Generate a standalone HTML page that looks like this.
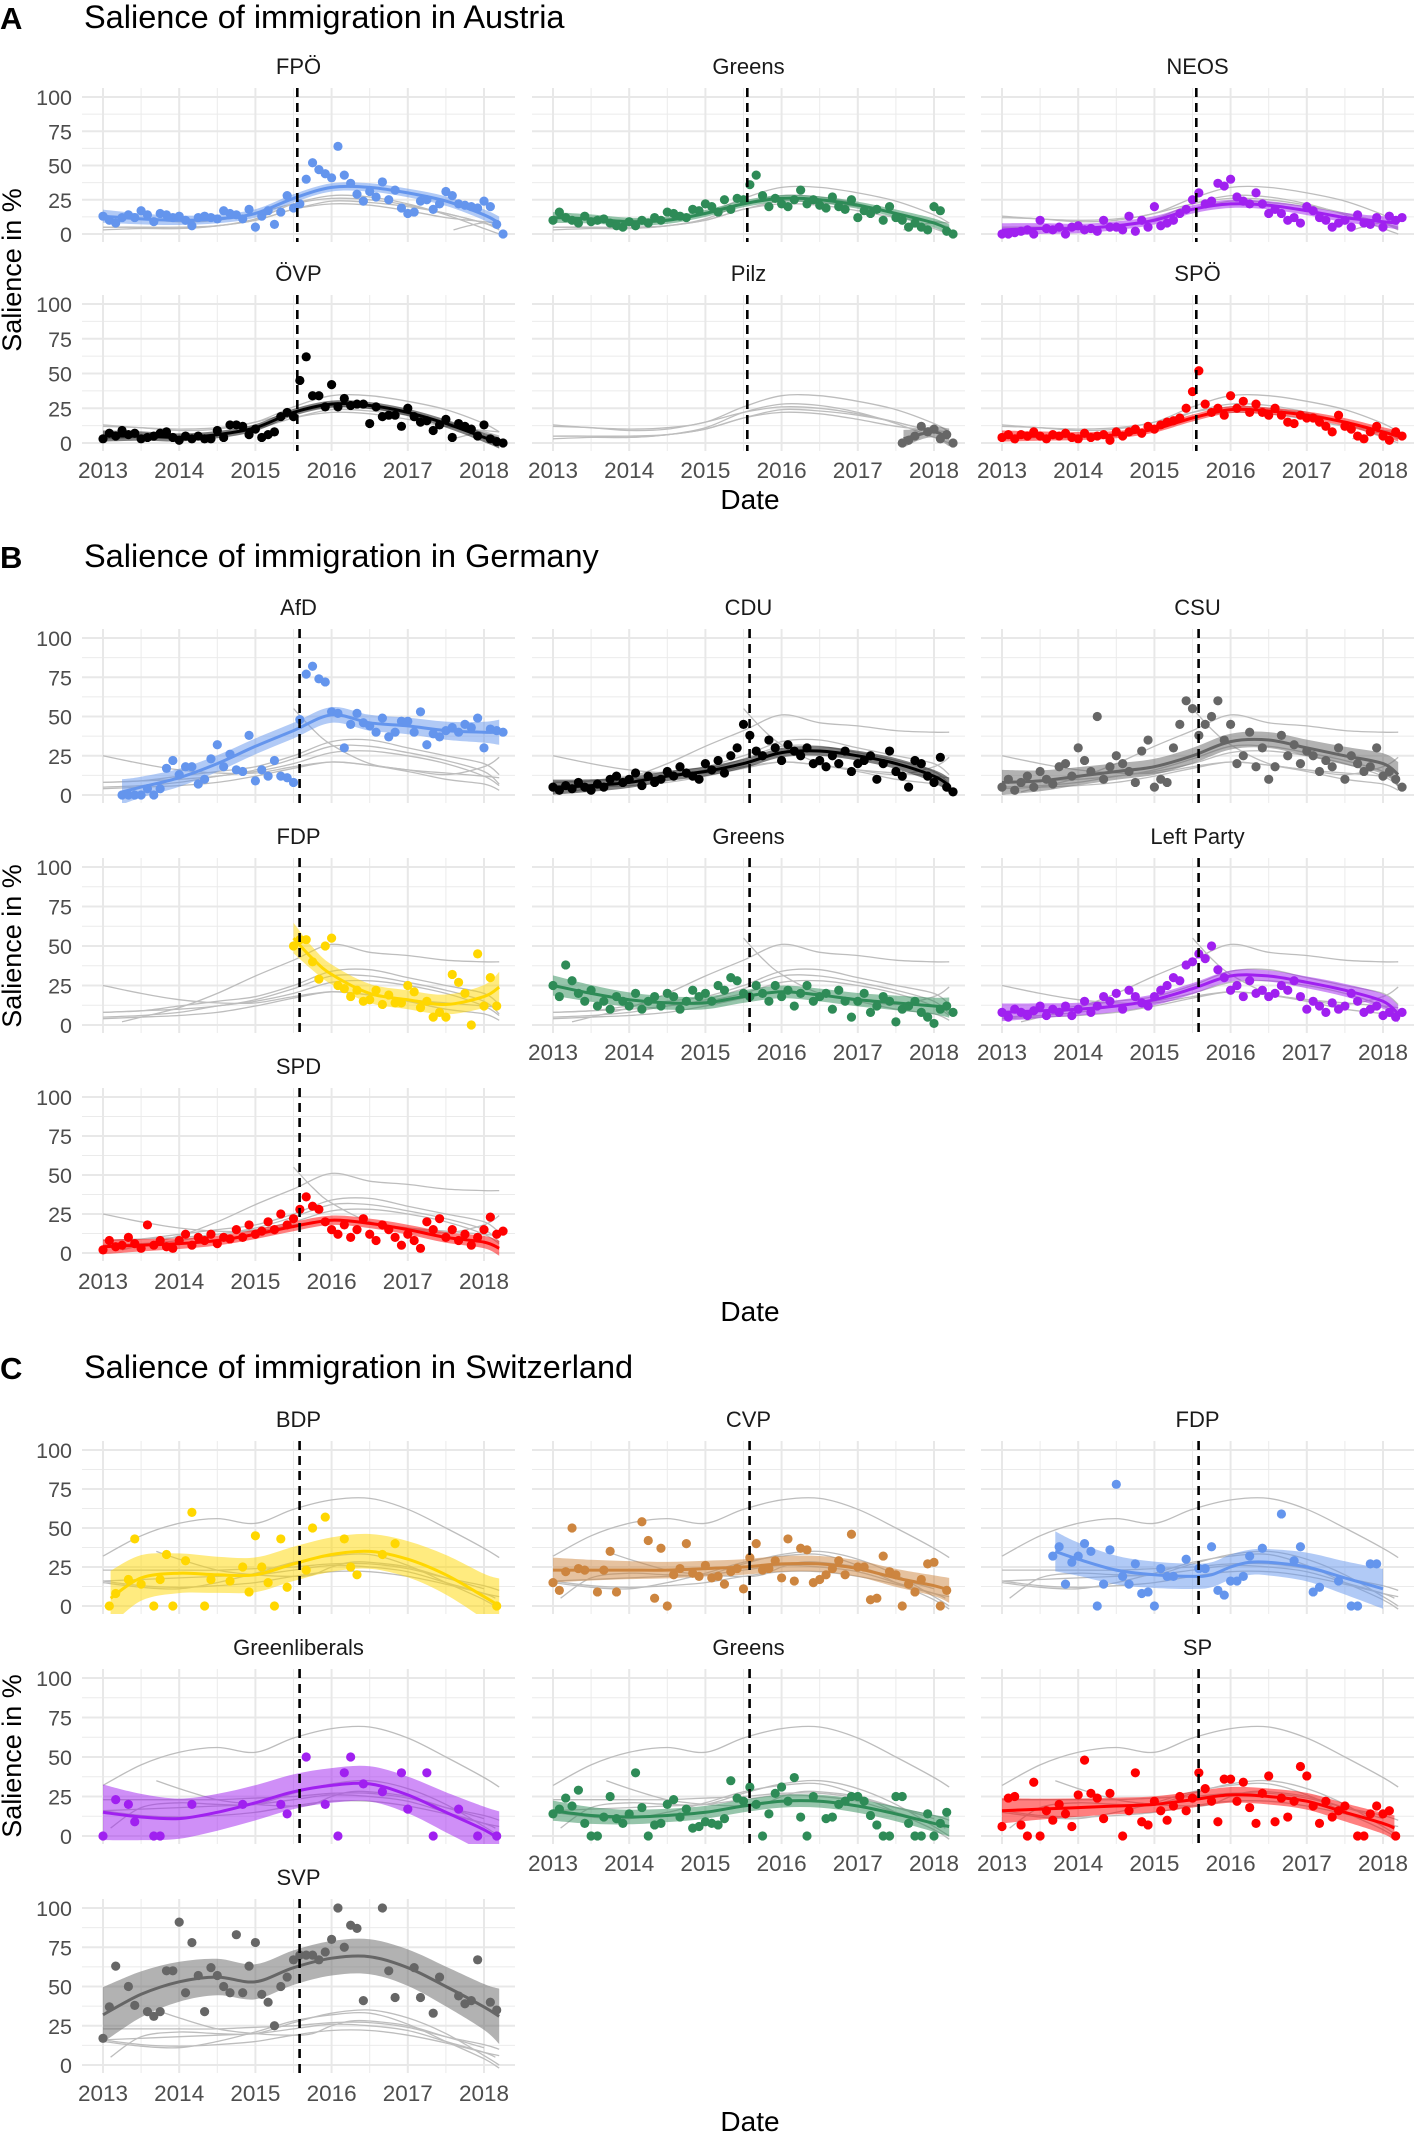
<!DOCTYPE html>
<html><head><meta charset="utf-8"><style>
body{margin:0;background:#fff;}
svg text{font-family:"Liberation Sans",Arial,sans-serif;}
</style></head><body>
<svg id="chart" xmlns="http://www.w3.org/2000/svg" width="1418" height="2134" viewBox="0 0 1418 2134"></svg>
<script>
// ---- knot times for smooth fits ----
const knotsFull = [2013,2013.5,2014,2014.5,2015,2015.5,2016,2016.5,2017,2017.5,2018,2018.2];
// ---- AUSTRIA (monthly points from 2013.0) ----
const fpoPts = [13,10,8,12,14,12,17,14,9,15,14,12,13,10,6,12,13,12,11,17,15,14,11,18,5,13,17,7,16,28,19,22,40,52,47,44,41,64,43,37,29,24,31,27,38,25,32,19,15,16,24,25,18,22,31,28,22,21,20,19,24,20,7,0];
const fpoSmooth = [13,11,10,11,15,26,34,34,30,24,14,8];
const ovpPts = [3,7,5,9,6,7,3,4,5,7,8,4,2,5,3,5,3,3,9,4,13,13,12,6,10,4,6,8,19,22,19,45,62,34,34,26,42,26,32,27,28,28,14,26,19,20,20,12,25,19,15,16,9,13,17,4,14,12,10,5,13,3,1,0];
const ovpSmooth = [5,5,4,6,11,22,28,27,22,14,4,0];
const grnAtPts = [10,16,12,10,8,13,9,10,11,8,6,5,9,6,10,8,12,10,16,15,13,12,18,17,22,20,16,25,18,26,25,36,43,28,20,26,22,20,25,32,22,25,21,19,27,20,18,25,12,17,15,18,10,20,12,10,5,8,5,3,20,17,2,0];
const grnAtSmooth = [12,11,9,10,15,22,26,25,21,15,8,3];
const neosPts = [0,0,1,2,3,0,10,4,3,5,0,5,6,3,4,2,10,5,5,3,13,2,10,5,20,6,8,10,15,18,25,30,22,24,37,35,40,27,24,22,30,22,15,18,15,10,12,8,20,17,12,10,5,8,10,5,14,8,7,12,5,13,10,12];
const neosSmooth = [3,4,4,6,10,18,22,21,17,12,9,8];
const pilzIdx = [55,56,57,58,59,60,61,62,63];
const pilzPts = [0,2,5,12,8,10,3,6,0];
const pilzKnots = [2017.6,2017.8,2018,2018.2];
const pilzSmooth = [3,6,8,4];
const spoPts = [4,6,3,6,5,8,5,3,6,5,7,4,3,7,4,5,6,2,8,5,8,10,7,12,10,13,15,16,18,25,37,52,28,22,25,20,34,25,30,22,28,22,20,25,20,15,14,20,18,18,15,12,8,20,12,10,5,3,8,12,5,2,8,5];
const spoSmooth = [5,5,5,6,10,18,24,23,20,15,8,5];
// ---- GERMANY ----
const afdIdx = [3,4,5,6,7,8,9,10,11,12,13,14,15,16,17,18,19,20,21,22,23,24,25,26,27,28,29,30,31,32,33,34,35,36,37,38,39,40,41,42,43,44,45,46,47,48,49,50,51,52,53,54,55,56,57,58,59,60,61,62,63];
const afdPts = [0,0,0,0,4,0,4,17,22,13,18,18,7,10,23,32,18,26,16,15,38,9,16,12,22,12,11,8,48,77,82,74,72,53,52,30,45,52,46,44,40,49,37,40,47,47,40,53,32,39,37,41,43,40,45,43,49,30,42,41,40];
const afdKnots = [2013.25,2013.5,2014,2014.5,2015,2015.5,2016,2016.5,2017,2017.5,2018,2018.2];
const afdSmooth = [2,5,11,20,31,41,51,46,44,41,40,40];
const cduPts = [5,3,6,4,8,5,3,7,5,10,12,8,10,14,6,12,8,10,15,12,18,14,12,10,20,16,22,14,25,30,45,38,28,25,35,30,22,32,28,25,30,20,22,18,25,20,28,15,20,22,25,10,20,28,15,12,5,22,20,12,8,24,5,2];
const cduSmooth = [5,6,8,12,15,20,27,28,25,20,12,6];
const csuPts = [5,10,3,8,12,5,15,10,7,18,20,12,30,22,15,50,10,18,25,20,15,8,28,35,5,10,8,30,45,60,55,38,45,50,60,35,45,20,25,40,18,30,10,18,38,25,32,20,28,25,15,22,18,30,10,25,20,15,18,30,12,15,10,5];
const csuSmooth = [8,9,12,15,18,25,34,35,30,25,20,13];
const fdpDeIdx = [30,31,32,33,34,35,36,37,38,39,40,41,42,43,44,45,46,47,48,49,50,51,52,53,54,55,56,57,58,59,60,61,62];
const fdpDePts = [50,54,54,40,29,50,55,25,23,18,22,15,16,22,13,19,14,14,25,21,11,15,5,8,5,32,27,20,0,45,12,30,12];
const fdpDeKnots = [2015.5,2015.75,2016,2016.5,2017,2017.5,2018,2018.2];
const fdpDeSmooth = [55,42,32,20,16,13,18,24];
const grnDePts = [25,18,38,28,20,15,22,12,15,10,18,15,12,20,10,15,18,12,20,18,10,15,22,18,20,15,25,22,30,28,20,18,25,20,15,25,18,22,12,20,25,15,18,20,10,22,15,5,15,20,8,12,18,15,2,10,12,15,8,5,1,10,12,8];
const grnDeSmooth = [25,20,16,14,14,18,21,19,16,14,12,11];
const linkePts = [8,5,10,8,6,9,12,6,10,8,12,6,10,15,8,12,18,15,20,10,22,18,14,12,18,22,25,30,28,38,40,45,42,50,35,30,22,25,18,28,20,22,18,20,25,22,28,18,10,15,12,8,14,10,12,20,15,8,10,12,6,8,5,8];
const linkeSmooth = [8,9,10,12,16,23,31,31,27,22,15,7];
const spdPts = [2,8,4,5,10,6,3,18,5,8,4,3,8,12,5,10,8,12,6,10,9,15,10,18,12,14,20,15,25,18,22,28,36,30,28,20,15,12,18,10,15,22,12,8,18,15,10,5,12,8,3,20,15,22,10,15,8,12,5,10,15,23,12,14];
const spdSmooth = [4,5,6,8,12,17,21,19,15,10,7,3];
// ---- SWITZERLAND (month index + value pairs) ----
const bdpIdx = [1,2,4,5,6,8,9,10,11,13,14,16,17,20,22,23,24,25,26,27,28,29,32,33,35,38,39,40,44,46,62];
const bdpPts = [0,8,17,43,14,0,17,33,0,29,60,0,17,16,25,9,45,25,15,0,43,12,23,50,57,43,25,20,33,40,0];
const bdpKnots = [2013.1,2013.5,2014,2014.5,2015,2015.5,2016,2016.5,2017,2017.5,2018,2018.2];
const bdpSmooth = [5,18,21,20,20,27,33,35,30,20,6,0];
const cvpIdx = [0,1,2,3,4,5,7,8,9,10,14,15,16,17,18,19,20,21,22,23,24,25,26,27,28,29,30,31,32,33,34,35,36,37,38,39,40,41,42,43,44,45,46,47,48,49,50,51,52,53,54,55,56,57,58,59,60,61,62];
const cvpPts = [15,10,22,50,24,23,9,23,35,9,54,42,5,37,0,20,24,40,21,19,26,18,19,14,22,24,11,31,40,23,24,29,18,43,16,37,36,15,17,20,24,29,20,46,25,25,4,5,32,22,20,0,14,9,17,27,28,0,10];
const cvpSmooth = [23,23,23,23,24,25,27,27,24,18,13,10];
const fdpChIdx = [8,9,10,11,12,13,14,15,16,17,18,19,20,21,22,23,24,25,26,27,29,31,32,33,34,35,36,37,38,39,41,44,46,47,49,50,53,55,56,58,59];
const fdpChPts = [32,38,14,28,32,40,35,0,14,36,78,19,14,27,8,9,0,24,19,19,30,24,24,38,10,7,16,16,19,32,37,59,29,38,9,12,16,0,0,27,27];
const fdpChKnots = [2013.7,2014,2014.5,2015,2015.5,2015.75,2016,2016.25,2016.5,2017,2017.5,2018];
const fdpChSmooth = [35,30,23,20,19,20,25,28,28,25,18,11];
const glpIdx = [0,2,4,5,8,9,14,22,28,29,32,35,37,38,39,41,44,47,48,51,52,56,59,62];
const glpPts = [0,23,20,9,0,0,20,20,20,14,50,20,0,40,50,33,28,40,17,40,0,17,0,0];
const glpSmooth = [15,12,11,15,21,28,32,33,26,15,4,-2];
const grnChIdx = [0,1,2,3,4,5,6,7,8,9,10,11,12,13,14,15,16,17,18,19,20,21,22,23,24,25,26,27,28,29,30,31,32,33,34,35,36,37,38,39,40,41,43,44,45,46,47,48,49,50,51,52,53,54,55,56,57,58,59,60,61,62];
const grnChPts = [14,17,24,19,29,8,0,0,12,25,11,8,14,40,18,0,7,8,20,23,12,17,5,6,9,8,7,11,35,24,22,31,20,0,14,27,31,22,37,12,0,25,11,12,20,22,25,25,22,13,7,0,0,25,25,8,0,0,14,0,8,15];
const grnChSmooth = [16,13,12,13,15,19,22,22,19,14,8,6];
const spIdx = [0,1,2,3,4,5,6,7,8,9,10,11,12,13,14,15,16,17,19,20,21,22,23,24,25,26,27,28,29,30,31,32,33,34,35,36,37,38,39,40,41,42,43,44,45,46,47,48,49,50,51,52,53,54,56,57,58,59,60,61,62];
const spPts = [6,24,25,7,0,34,0,16,10,20,14,6,26,48,27,24,11,27,0,16,40,9,7,22,16,10,19,25,16,24,40,30,22,9,36,36,22,34,18,8,27,38,9,24,12,22,44,38,19,8,22,12,16,19,0,0,14,19,14,16,0];
const spKnots = [2013,2013.5,2014,2014.5,2015,2015.5,2016,2016.5,2017,2017.5,2018,2018.15];
const spSmooth = [16,17,18,19,20,23,26,25,22,15,8,5];
const svpIdx = [0,1,2,4,5,7,8,9,10,11,12,13,14,15,16,17,18,19,20,21,22,23,24,25,26,27,28,29,30,31,32,33,34,35,36,37,38,39,40,41,44,45,46,49,50,52,53,56,57,58,59,61,62];
const svpPts = [17,37,63,50,38,34,31,34,60,60,91,46,78,57,34,62,57,50,46,83,46,63,78,45,40,25,50,56,67,70,70,70,67,72,80,100,75,89,87,41,100,60,43,62,43,33,56,44,39,41,67,40,35];
const svpSmooth = [32,45,53,56,53,62,68,69,62,50,37,31];
// ---- tick labels ----
const yTicks = [0,25,50,75,100];
const xTicks = [2013,2014,2015,2016,2017,2018];

const parties = {
  fpo:{label:'FPÖ',color:'#6495ED',pts:fpoPts,idx:null,knots:knotsFull,sm:fpoSmooth,se:3},
  grnAt:{label:'Greens',color:'#2E8B57',pts:grnAtPts,idx:null,knots:knotsFull,sm:grnAtSmooth,se:2.5},
  neos:{label:'NEOS',color:'#A020F0',pts:neosPts,idx:null,knots:knotsFull,sm:neosSmooth,se:3},
  ovp:{label:'ÖVP',color:'#000000',pts:ovpPts,idx:null,knots:knotsFull,sm:ovpSmooth,se:2.5},
  pilz:{label:'Pilz',color:'#666666',pts:pilzPts,idx:pilzIdx,knots:pilzKnots,sm:pilzSmooth,se:4},
  spo:{label:'SPÖ',color:'#FF0000',pts:spoPts,idx:null,knots:knotsFull,sm:spoSmooth,se:2.5},
  afd:{label:'AfD',color:'#6495ED',pts:afdPts,idx:afdIdx,knots:afdKnots,sm:afdSmooth,se:5},
  cdu:{label:'CDU',color:'#000000',pts:cduPts,idx:null,knots:knotsFull,sm:cduSmooth,se:3},
  csu:{label:'CSU',color:'#666666',pts:csuPts,idx:null,knots:knotsFull,sm:csuSmooth,se:5},
  fdpDe:{label:'FDP',color:'#FFD700',pts:fdpDePts,idx:fdpDeIdx,knots:fdpDeKnots,sm:fdpDeSmooth,se:6},
  grnDe:{label:'Greens',color:'#2E8B57',pts:grnDePts,idx:null,knots:knotsFull,sm:grnDeSmooth,se:4},
  linke:{label:'Left Party',color:'#A020F0',pts:linkePts,idx:null,knots:knotsFull,sm:linkeSmooth,se:3.5},
  spd:{label:'SPD',color:'#FF0000',pts:spdPts,idx:null,knots:knotsFull,sm:spdSmooth,se:3},
  bdp:{label:'BDP',color:'#FFD700',pts:bdpPts,idx:bdpIdx,knots:bdpKnots,sm:bdpSmooth,se:11},
  cvp:{label:'CVP',color:'#CD853F',pts:cvpPts,idx:cvpIdx,knots:knotsFull,sm:cvpSmooth,se:5},
  fdpCh:{label:'FDP',color:'#6495ED',pts:fdpChPts,idx:fdpChIdx,knots:fdpChKnots,sm:fdpChSmooth,se:8},
  glp:{label:'Greenliberals',color:'#A020F0',pts:glpPts,idx:glpIdx,knots:knotsFull,sm:glpSmooth,se:11},
  grnCh:{label:'Greens',color:'#2E8B57',pts:grnChPts,idx:grnChIdx,knots:knotsFull,sm:grnChSmooth,se:4},
  sp:{label:'SP',color:'#FF0000',pts:spPts,idx:spIdx,knots:spKnots,sm:spSmooth,se:5},
  svp:{label:'SVP',color:'#666666',pts:svpPts,idx:svpIdx,knots:knotsFull,sm:svpSmooth,se:11}
};

const countries = [
  {letter:'A',title:'Salience of immigration in Austria',titleY:28,cut:2015.55,
   rows:[[97,234],[304,443]],parties:['fpo','grnAt','neos','ovp','pilz','spo'],
   xlab:[[1,0,470],[1,1,470],[1,2,470]],dateY:509,ylabY:270},
  {letter:'B',title:'Salience of immigration in Germany',titleY:567,cut:2015.58,
   rows:[[638,795],[867,1025],[1097,1253]],parties:['afd','cdu','csu','fdpDe','grnDe','linke','spd'],
   xlab:[[1,1,1052],[1,2,1052],[2,0,1281]],dateY:1321,ylabY:946},
  {letter:'C',title:'Salience of immigration in Switzerland',titleY:1378,cut:2015.58,
   rows:[[1450,1606],[1678,1836],[1908,2065]],parties:['bdp','cvp','fdpCh','glp','grnCh','sp','svp'],
   xlab:[[1,1,1863],[1,2,1863],[2,0,2093]],dateY:2131,ylabY:1756}
];
const colX = [103,553,1002];
const PPY = 76.2;
const NS = 'http://www.w3.org/2000/svg';
const svg = document.getElementById('chart');
function mk(tag, attrs, parent){const e=document.createElementNS(NS,tag);for(const k in attrs)e.setAttribute(k,attrs[k]);(parent||svg).appendChild(e);return e;}
function crPath(pts){
  let d='M'+pts[0][0].toFixed(1)+','+pts[0][1].toFixed(1);
  for(let i=0;i<pts.length-1;i++){
    const p0=pts[Math.max(0,i-1)],p1=pts[i],p2=pts[i+1],p3=pts[Math.min(pts.length-1,i+2)];
    const c1=[p1[0]+(p2[0]-p0[0])/6,p1[1]+(p2[1]-p0[1])/6];
    const c2=[p2[0]-(p3[0]-p1[0])/6,p2[1]-(p3[1]-p1[1])/6];
    d+=' C'+c1[0].toFixed(1)+','+c1[1].toFixed(1)+' '+c2[0].toFixed(1)+','+c2[1].toFixed(1)+' '+p2[0].toFixed(1)+','+p2[1].toFixed(1);
  }
  return d;
}
let clipId=0;
countries.forEach((c,ci)=>{
  const lt=mk('text',{x:0,y:c.titleY+1,'font-size':31,'font-weight':'bold',fill:'#000'});
  lt.textContent=c.letter;
  
  
  const tt=mk('text',{x:84,y:c.titleY,'font-size':32.5,fill:'#000'});
  tt.textContent=c.title;
  
  
  c.parties.forEach((pk,pi)=>{
    const p=parties[pk];
    const row=Math.floor(pi/3), col=pi%3;
    const [y100,y0]=c.rows[row];
    const x0=colX[col];
    const X=t=>x0+(t-2013)*PPY;
    const Y=v=>y0-v*(y0-y100)/100;
    const left=x0-21, right=x0+412, top=y100-9, bot=y0+8;
    const g=mk('g',{});
    
    
    [12.5,37.5,62.5,87.5].forEach(v=>mk('line',{x1:left,x2:right,y1:Y(v),y2:Y(v),stroke:'#ebebeb','stroke-width':1},g));
    for(let t=2013.5;t<2018.4;t+=1)mk('line',{x1:X(t),x2:X(t),y1:top,y2:bot,stroke:'#ebebeb','stroke-width':1},g);
    yTicks.forEach(v=>mk('line',{x1:left,x2:right,y1:Y(v),y2:Y(v),stroke:'#e8e8e8','stroke-width':2},g));
    xTicks.forEach(t=>mk('line',{x1:X(t),x2:X(t),y1:top,y2:bot,stroke:'#e8e8e8','stroke-width':2},g));
    const cid='clip'+(clipId++);
    const cp=mk('clipPath',{id:cid},g);mk('rect',{x:left,y:top,width:right-left,height:bot-top},cp);
    const inner=mk('g',{'clip-path':'url(#'+cid+')'},g);
    c.parties.forEach(ok=>{ if(ok===pk)return; const o=parties[ok];
      const gl=mk('path',{d:crPath(o.knots.map((t,i)=>[X(t),Y(o.sm[i])])),fill:'none',stroke:'#bdbdbd','stroke-width':1.3},inner);
      
      
    });
    const n=p.knots.length;
    const se=i=>p.se*(1+0.6*Math.pow(Math.abs(i-(n-1)/2)/((n-1)/2),3));
    const up=p.knots.map((t,i)=>[X(t),Y(p.sm[i]+se(i))]);
    const lo=p.knots.map((t,i)=>[X(t),Y(p.sm[i]-se(i))]).reverse();
    const bandD=crPath(up)+' L'+crPath(lo).slice(1)+' Z';
    const band=mk('path',{d:bandD,fill:p.color,'fill-opacity':0.5,stroke:'none'},inner);
    
    
    p.pts.forEach((v,i)=>{ if(v===null)return;
      const m=p.idx?p.idx[i]:i; const t=2013+m/12;
      const cEl=mk('circle',{cx:X(t),cy:Y(v),r:4.6,fill:p.color},inner);
      
      
    });
    const ln=mk('path',{d:crPath(p.knots.map((t,i)=>[X(t),Y(p.sm[i])])),fill:'none',stroke:p.color,'stroke-width':3},inner);
    
    
    const dl=mk('line',{x1:X(c.cut),x2:X(c.cut),y1:top,y2:bot,stroke:'#000','stroke-width':2.6,'stroke-dasharray':'9,6'},g);
    
    
    const st=mk('text',{x:(left+right)/2,y:y100-23,'text-anchor':'middle','font-size':22,fill:'#1a1a1a'},g);
    st.textContent=p.label;
    
    
    if(col===0){ yTicks.forEach(v=>{const yt=mk('text',{x:72,y:Y(v)+8,'text-anchor':'end','font-size':21.5,fill:'#4d4d4d'},g);
      yt.textContent=v;
      
      });}
    const xl=c.xlab.find(a=>a[0]===row&&a[1]===col);
    if(xl){ xTicks.forEach(t=>{const xt=mk('text',{x:X(t),y:xl[2]+8,'text-anchor':'middle','font-size':22.5,fill:'#4d4d4d'},g);
      xt.textContent=t;
      
      });}
  });
  const dt=mk('text',{x:750,y:c.dateY,'text-anchor':'middle','font-size':28,fill:'#000'});
  dt.textContent='Date';
  
  
  const yl=mk('text',{x:0,y:0,'text-anchor':'middle','font-size':27,fill:'#000',transform:'translate(21,'+c.ylabY+') rotate(-90)'});
  yl.textContent='Salience in %';
  
  
});
</script>
</body></html>
